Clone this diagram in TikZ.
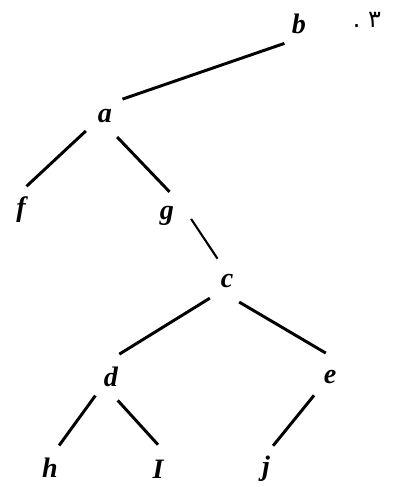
\documentclass[tikz,border=0pt]{standalone}
\usepackage{fontspec}
\setmainfont{Liberation Serif}
\newfontfamily\arabicfont[Script=Arabic]{DejaVu Sans}
\TeXXeTstate=1
\usetikzlibrary{calc}

\tikzset{
  vert/.style={circle,minimum size=1.2cm,inner sep=0pt,font=\fontsize{20}{23}\selectfont\bfseries\itshape},
  edge/.style={line width=2.1pt}
}

\begin{document}
\begin{tikzpicture}[x=0.025cm,y=-0.025cm]
\useasboundingbox (0,0) rectangle (400,487);
\node[vert] (b) at (299,24) {b};
\node[vert] (a) at (105,116) {a};
\node[vert] (f) at (21,210) {f};
\node[vert] (g) at (167,216) {g};
\node[vert] (c) at (227,281) {c};
\node[vert] (d) at (111,377) {d};
\node[vert] (e) at (330,377) {e};
\node[vert] (h) at (50,468) {h};
\node[vert] (i) at (158,469) {I};
\node[vert] (j) at (266,469) {j};
\node (num) at (367,20) {\arabicfont\fontsize{17}{20}\selectfont\beginR ۳ .\endR};
% edges
\draw[edge] (a.44)--(b.233);
\draw[edge] (a.218)--(f.77); \draw[edge] (a.300)--(g.84);
\draw[line width=1.5pt] (g.353)--(c.113);
\draw[edge] (c.225)--(d.70); \draw[edge] (c.300)--(e.100);
\draw[edge] (d.230)--(h.68); \draw[edge] (d.286)--(i.90);
\draw[edge] (e.229)--(j.73);
\end{tikzpicture}
\end{document}
